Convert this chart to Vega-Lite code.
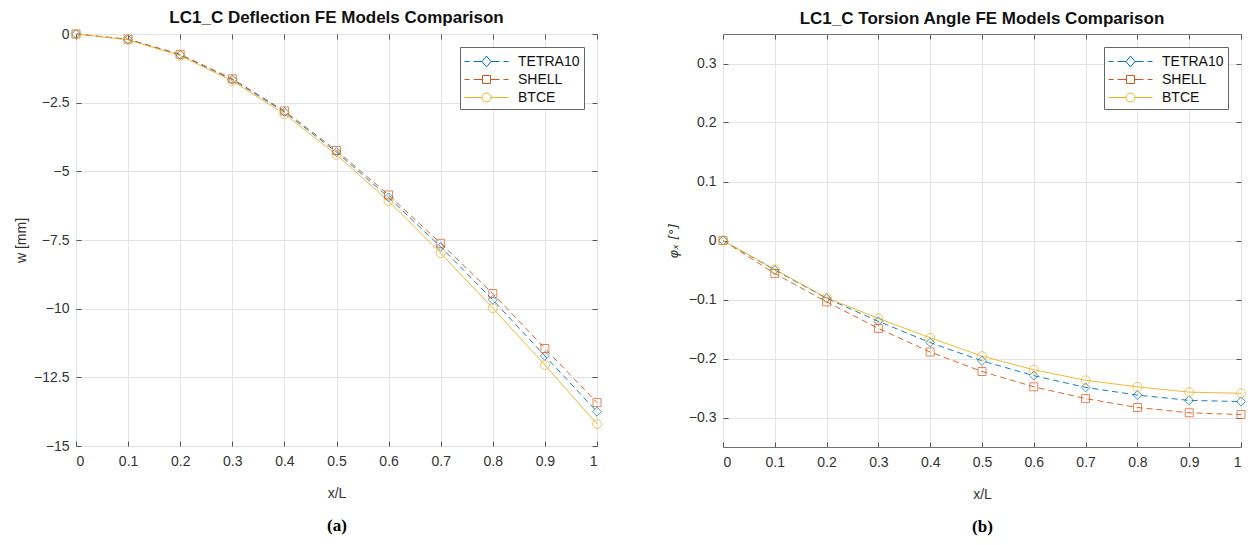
{
  "$schema": "https://vega.github.io/schema/vega-lite/v6.json",
  "background": "white",
  "padding": {"left": 14, "top": 8, "right": 5, "bottom": 5},
  "datasets": {
    "deflection": [
      {"xL": 0, "model": "TETRA10", "v": 0}, {"xL": 0, "model": "SHELL", "v": 0}, {"xL": 0, "model": "BTCE", "v": 0},
      {"xL": 0.1, "model": "TETRA10", "v": -0.2}, {"xL": 0.1, "model": "SHELL", "v": -0.19}, {"xL": 0.1, "model": "BTCE", "v": -0.21},
      {"xL": 0.2, "model": "TETRA10", "v": -0.76}, {"xL": 0.2, "model": "SHELL", "v": -0.74}, {"xL": 0.2, "model": "BTCE", "v": -0.79},
      {"xL": 0.3, "model": "TETRA10", "v": -1.66}, {"xL": 0.3, "model": "SHELL", "v": -1.63}, {"xL": 0.3, "model": "BTCE", "v": -1.71},
      {"xL": 0.4, "model": "TETRA10", "v": -2.84}, {"xL": 0.4, "model": "SHELL", "v": -2.8}, {"xL": 0.4, "model": "BTCE", "v": -2.91},
      {"xL": 0.5, "model": "TETRA10", "v": -4.3}, {"xL": 0.5, "model": "SHELL", "v": -4.24}, {"xL": 0.5, "model": "BTCE", "v": -4.4},
      {"xL": 0.6, "model": "TETRA10", "v": -5.95}, {"xL": 0.6, "model": "SHELL", "v": -5.86}, {"xL": 0.6, "model": "BTCE", "v": -6.08},
      {"xL": 0.7, "model": "TETRA10", "v": -7.75}, {"xL": 0.7, "model": "SHELL", "v": -7.62}, {"xL": 0.7, "model": "BTCE", "v": -7.98},
      {"xL": 0.8, "model": "TETRA10", "v": -9.68}, {"xL": 0.8, "model": "SHELL", "v": -9.45}, {"xL": 0.8, "model": "BTCE", "v": -9.98},
      {"xL": 0.9, "model": "TETRA10", "v": -11.72}, {"xL": 0.9, "model": "SHELL", "v": -11.45}, {"xL": 0.9, "model": "BTCE", "v": -12.05},
      {"xL": 1, "model": "TETRA10", "v": -13.75}, {"xL": 1, "model": "SHELL", "v": -13.42}, {"xL": 1, "model": "BTCE", "v": -14.2}
    ],
    "torsion": [
      {"xL": 0, "model": "TETRA10", "v": 0}, {"xL": 0, "model": "SHELL", "v": 0}, {"xL": 0, "model": "BTCE", "v": 0},
      {"xL": 0.1, "model": "TETRA10", "v": -0.05}, {"xL": 0.1, "model": "SHELL", "v": -0.056}, {"xL": 0.1, "model": "BTCE", "v": -0.049},
      {"xL": 0.2, "model": "TETRA10", "v": -0.098}, {"xL": 0.2, "model": "SHELL", "v": -0.104}, {"xL": 0.2, "model": "BTCE", "v": -0.097},
      {"xL": 0.3, "model": "TETRA10", "v": -0.137}, {"xL": 0.3, "model": "SHELL", "v": -0.149}, {"xL": 0.3, "model": "BTCE", "v": -0.132},
      {"xL": 0.4, "model": "TETRA10", "v": -0.173}, {"xL": 0.4, "model": "SHELL", "v": -0.189}, {"xL": 0.4, "model": "BTCE", "v": -0.165},
      {"xL": 0.5, "model": "TETRA10", "v": -0.204}, {"xL": 0.5, "model": "SHELL", "v": -0.222}, {"xL": 0.5, "model": "BTCE", "v": -0.196},
      {"xL": 0.6, "model": "TETRA10", "v": -0.229}, {"xL": 0.6, "model": "SHELL", "v": -0.248}, {"xL": 0.6, "model": "BTCE", "v": -0.219},
      {"xL": 0.7, "model": "TETRA10", "v": -0.249}, {"xL": 0.7, "model": "SHELL", "v": -0.268}, {"xL": 0.7, "model": "BTCE", "v": -0.237},
      {"xL": 0.8, "model": "TETRA10", "v": -0.262}, {"xL": 0.8, "model": "SHELL", "v": -0.283}, {"xL": 0.8, "model": "BTCE", "v": -0.248},
      {"xL": 0.9, "model": "TETRA10", "v": -0.271}, {"xL": 0.9, "model": "SHELL", "v": -0.292}, {"xL": 0.9, "model": "BTCE", "v": -0.257},
      {"xL": 1, "model": "TETRA10", "v": -0.273}, {"xL": 1, "model": "SHELL", "v": -0.295}, {"xL": 1, "model": "BTCE", "v": -0.259}
    ]
  },
  "spacing": 62,
  "resolve": {
    "scale": {"color": "independent", "shape": "independent"},
    "legend": {"color": "independent", "shape": "independent"}
  },
  "hconcat": [
    {
      "width": 521,
      "height": 412,
      "data": {"name": "deflection"},
      "title": {"text": "LC1_C Deflection FE Models Comparison", "offset": 0},
      "layer": [
        {
          "transform": [{"filter": "datum.model === 'TETRA10'"}],
          "mark": {"type": "line", "strokeWidth": 1, "strokeDash": [6, 4], "color": "#0072BD", "opacity": 0.9},
          "encoding": {
            "x": {"field": "xL", "type": "quantitative", "scale": {"domain": [0, 1], "nice": false},
                  "axis": {"values": [0, 0.1, 0.2, 0.3, 0.4, 0.5, 0.6, 0.7, 0.8, 0.9, 1], "format": ".4~g", "title": "x/L"}},
            "y": {"field": "v", "type": "quantitative", "scale": {"domain": [-15, 0], "nice": false, "zero": false},
                  "axis": {"values": [-15, -12.5, -10, -7.5, -5, -2.5, 0], "format": ".4~g", "title": "w [mm]"}}
          }
        },
        {
          "transform": [{"filter": "datum.model === 'SHELL'"}],
          "mark": {"type": "line", "strokeWidth": 1, "strokeDash": [6, 4], "color": "#D95319", "opacity": 0.9},
          "encoding": {
            "x": {"field": "xL", "type": "quantitative", "axis": null},
            "y": {"field": "v", "type": "quantitative", "axis": null}
          }
        },
        {
          "transform": [{"filter": "datum.model === 'BTCE'"}],
          "mark": {"type": "line", "strokeWidth": 1, "color": "#EDB120", "opacity": 0.9},
          "encoding": {
            "x": {"field": "xL", "type": "quantitative", "axis": null},
            "y": {"field": "v", "type": "quantitative", "axis": null}
          }
        },
        {
          "transform": [{"filter": "datum.model === 'TETRA10'"}],
          "mark": {"type": "point", "shape": "diamond", "filled": false, "size": 80, "strokeWidth": 1, "color": "#0072BD"},
          "encoding": {
            "x": {"field": "xL", "type": "quantitative",
                  "axis": {"orient": "bottom", "labels": false, "ticks": false, "grid": false, "domain": false, "title": "(a)",
                           "titleFont": "Liberation Serif", "titleFontSize": 17, "titleFontWeight": "bold", "titleColor": "#000", "titlePadding": 71}},
            "y": {"field": "v", "type": "quantitative", "axis": null}
          }
        },
        {
          "transform": [{"filter": "datum.model === 'SHELL'"}],
          "mark": {"type": "point", "shape": "square", "filled": false, "size": 64, "strokeWidth": 1, "color": "#D95319"},
          "encoding": {
            "x": {"field": "xL", "type": "quantitative", "axis": null},
            "y": {"field": "v", "type": "quantitative", "axis": null}
          }
        },
        {
          "transform": [{"filter": "datum.model === 'BTCE'"}],
          "mark": {"type": "point", "shape": "circle", "filled": false, "size": 81, "strokeWidth": 1, "color": "#EDB120"},
          "encoding": {
            "x": {"field": "xL", "type": "quantitative", "axis": null},
            "y": {"field": "v", "type": "quantitative", "axis": null}
          }
        },
        {
          "mark": {"type": "point", "filled": false, "size": 0},
          "encoding": {
            "x": {"field": "xL", "type": "quantitative",
                  "axis": {"orient": "top", "labels": false, "grid": false, "title": null, "values": [0, 0.1, 0.2, 0.3, 0.4, 0.5, 0.6, 0.7, 0.8, 0.9, 1]}},
            "y": {"field": "v", "type": "quantitative",
                  "axis": {"orient": "right", "labels": false, "grid": false, "title": null, "values": [-15, -12.5, -10, -7.5, -5, -2.5, 0]}},
            "color": {"field": "model", "type": "nominal",
                      "legend": {"title": null, "orient": "top-right",
                                 "encode": {"symbols": {"update": {"stroke": {"signal": "datum.value === 'TETRA10' ? '#0072BD' : datum.value === 'SHELL' ? '#D95319' : '#EDB120'"}}}}},
                      "scale": {"domain": ["TETRA10", "SHELL", "BTCE"], "range": ["#0072BD", "#D95319", "#EDB120"]}},
            "shape": {"field": "model", "type": "nominal", "legend": {"title": null, "orient": "top-right"},
                      "scale": {"domain": ["TETRA10", "SHELL", "BTCE"],
                                "range": [
                                  "M-1,0H-0.5M-0.1,0H0.75M1.2,-0.55L1.65,0L1.2,0.55L0.75,0ZM1.65,0H2.5M2.9,0H3.4",
                                  "M-1,0H-0.5M-0.1,0H0.8M0.8,-0.4H1.6V0.4H0.8ZM1.6,0H2.5M2.9,0H3.4",
                                  "M-1,0H0.75M1.65,0A0.45,0.45 0 1,1 0.75,0A0.45,0.45 0 1,1 1.65,0M1.65,0H3.4"
                                ]}}
          }
        }
      ],
      "resolve": {"axis": {"x": "independent", "y": "independent"}}
    },
    {
      "width": 518,
      "height": 413,
      "data": {"name": "torsion"},
      "title": {"text": "LC1_C Torsion Angle FE Models Comparison", "offset": 6},
      "layer": [
        {
          "transform": [{"filter": "datum.model === 'TETRA10'"}],
          "mark": {"type": "line", "strokeWidth": 1, "strokeDash": [6, 4], "color": "#0072BD", "opacity": 0.9},
          "encoding": {
            "x": {"field": "xL", "type": "quantitative", "scale": {"domain": [0, 1], "nice": false},
                  "axis": {"values": [0, 0.1, 0.2, 0.3, 0.4, 0.5, 0.6, 0.7, 0.8, 0.9, 1], "format": ".4~g", "title": "x/L"}},
            "y": {"field": "v", "type": "quantitative", "scale": {"domain": [-0.35, 0.35], "nice": false, "zero": false},
                  "axis": {"values": [-0.3, -0.2, -0.1, 0, 0.1, 0.2, 0.3], "format": ".4~g", "title": "φₓ [°]",
                           "titleFont": "DejaVu Sans", "titleFontSize": 13, "titleFontStyle": "italic", "titlePadding": 8}}
          }
        },
        {
          "transform": [{"filter": "datum.model === 'SHELL'"}],
          "mark": {"type": "line", "strokeWidth": 1, "strokeDash": [6, 4], "color": "#D95319", "opacity": 0.9},
          "encoding": {
            "x": {"field": "xL", "type": "quantitative", "axis": null},
            "y": {"field": "v", "type": "quantitative", "axis": null}
          }
        },
        {
          "transform": [{"filter": "datum.model === 'BTCE'"}],
          "mark": {"type": "line", "strokeWidth": 1, "color": "#EDB120", "opacity": 0.9},
          "encoding": {
            "x": {"field": "xL", "type": "quantitative", "axis": null},
            "y": {"field": "v", "type": "quantitative", "axis": null}
          }
        },
        {
          "transform": [{"filter": "datum.model === 'TETRA10'"}],
          "mark": {"type": "point", "shape": "diamond", "filled": false, "size": 80, "strokeWidth": 1, "color": "#0072BD"},
          "encoding": {
            "x": {"field": "xL", "type": "quantitative",
                  "axis": {"orient": "bottom", "labels": false, "ticks": false, "grid": false, "domain": false, "title": "(b)",
                           "titleFont": "Liberation Serif", "titleFontSize": 17, "titleFontWeight": "bold", "titleColor": "#000", "titlePadding": 71}},
            "y": {"field": "v", "type": "quantitative", "axis": null}
          }
        },
        {
          "transform": [{"filter": "datum.model === 'SHELL'"}],
          "mark": {"type": "point", "shape": "square", "filled": false, "size": 64, "strokeWidth": 1, "color": "#D95319"},
          "encoding": {
            "x": {"field": "xL", "type": "quantitative", "axis": null},
            "y": {"field": "v", "type": "quantitative", "axis": null}
          }
        },
        {
          "transform": [{"filter": "datum.model === 'BTCE'"}],
          "mark": {"type": "point", "shape": "circle", "filled": false, "size": 81, "strokeWidth": 1, "color": "#EDB120"},
          "encoding": {
            "x": {"field": "xL", "type": "quantitative", "axis": null},
            "y": {"field": "v", "type": "quantitative", "axis": null}
          }
        },
        {
          "mark": {"type": "point", "filled": false, "size": 0},
          "encoding": {
            "x": {"field": "xL", "type": "quantitative",
                  "axis": {"orient": "top", "labels": false, "grid": false, "title": null, "values": [0, 0.1, 0.2, 0.3, 0.4, 0.5, 0.6, 0.7, 0.8, 0.9, 1]}},
            "y": {"field": "v", "type": "quantitative",
                  "axis": {"orient": "right", "labels": false, "grid": false, "title": null, "values": [-0.3, -0.2, -0.1, 0, 0.1, 0.2, 0.3]}},
            "color": {"field": "model", "type": "nominal",
                      "legend": {"title": null, "orient": "top-right",
                                 "encode": {"symbols": {"update": {"stroke": {"signal": "datum.value === 'TETRA10' ? '#0072BD' : datum.value === 'SHELL' ? '#D95319' : '#EDB120'"}}}}},
                      "scale": {"domain": ["TETRA10", "SHELL", "BTCE"], "range": ["#0072BD", "#D95319", "#EDB120"]}},
            "shape": {"field": "model", "type": "nominal", "legend": {"title": null, "orient": "top-right"},
                      "scale": {"domain": ["TETRA10", "SHELL", "BTCE"],
                                "range": [
                                  "M-1,0H-0.5M-0.1,0H0.75M1.2,-0.55L1.65,0L1.2,0.55L0.75,0ZM1.65,0H2.5M2.9,0H3.4",
                                  "M-1,0H-0.5M-0.1,0H0.8M0.8,-0.4H1.6V0.4H0.8ZM1.6,0H2.5M2.9,0H3.4",
                                  "M-1,0H0.75M1.65,0A0.45,0.45 0 1,1 0.75,0A0.45,0.45 0 1,1 1.65,0M1.65,0H3.4"
                                ]}}
          }
        }
      ],
      "resolve": {"axis": {"x": "independent", "y": "independent"}}
    }
  ],
  "config": {
    "view": {"stroke": "#707070", "strokeWidth": 1},
    "title": {"font": "Liberation Sans", "fontSize": 17, "fontWeight": "bold", "color": "#111"},
    "axis": {
      "grid": true, "gridColor": "#e4e4e4", "gridWidth": 1,
      "domain": false,
      "tickColor": "#555", "tickSize": -5, "tickWidth": 1,
      "labelFont": "Liberation Sans", "labelFontSize": 14, "labelColor": "#333",
      "titleFont": "Liberation Sans", "titleFontSize": 14, "titleFontWeight": "normal", "titleColor": "#333"
    },
    "axisX": {"titlePadding": 18, "labelPadding": 13},
    "axisY": {"titlePadding": 5, "labelPadding": 12},
    "legend": {
      "offset": 13, "padding": 4,
      "fillColor": "white", "strokeColor": "#666",
      "labelFont": "Liberation Sans", "labelFontSize": 14, "labelColor": "#111", "labelOffset": 33,
      "symbolSize": 400, "symbolStrokeWidth": 1, "symbolOpacity": 1, "rowPadding": 0
    }
  }
}
